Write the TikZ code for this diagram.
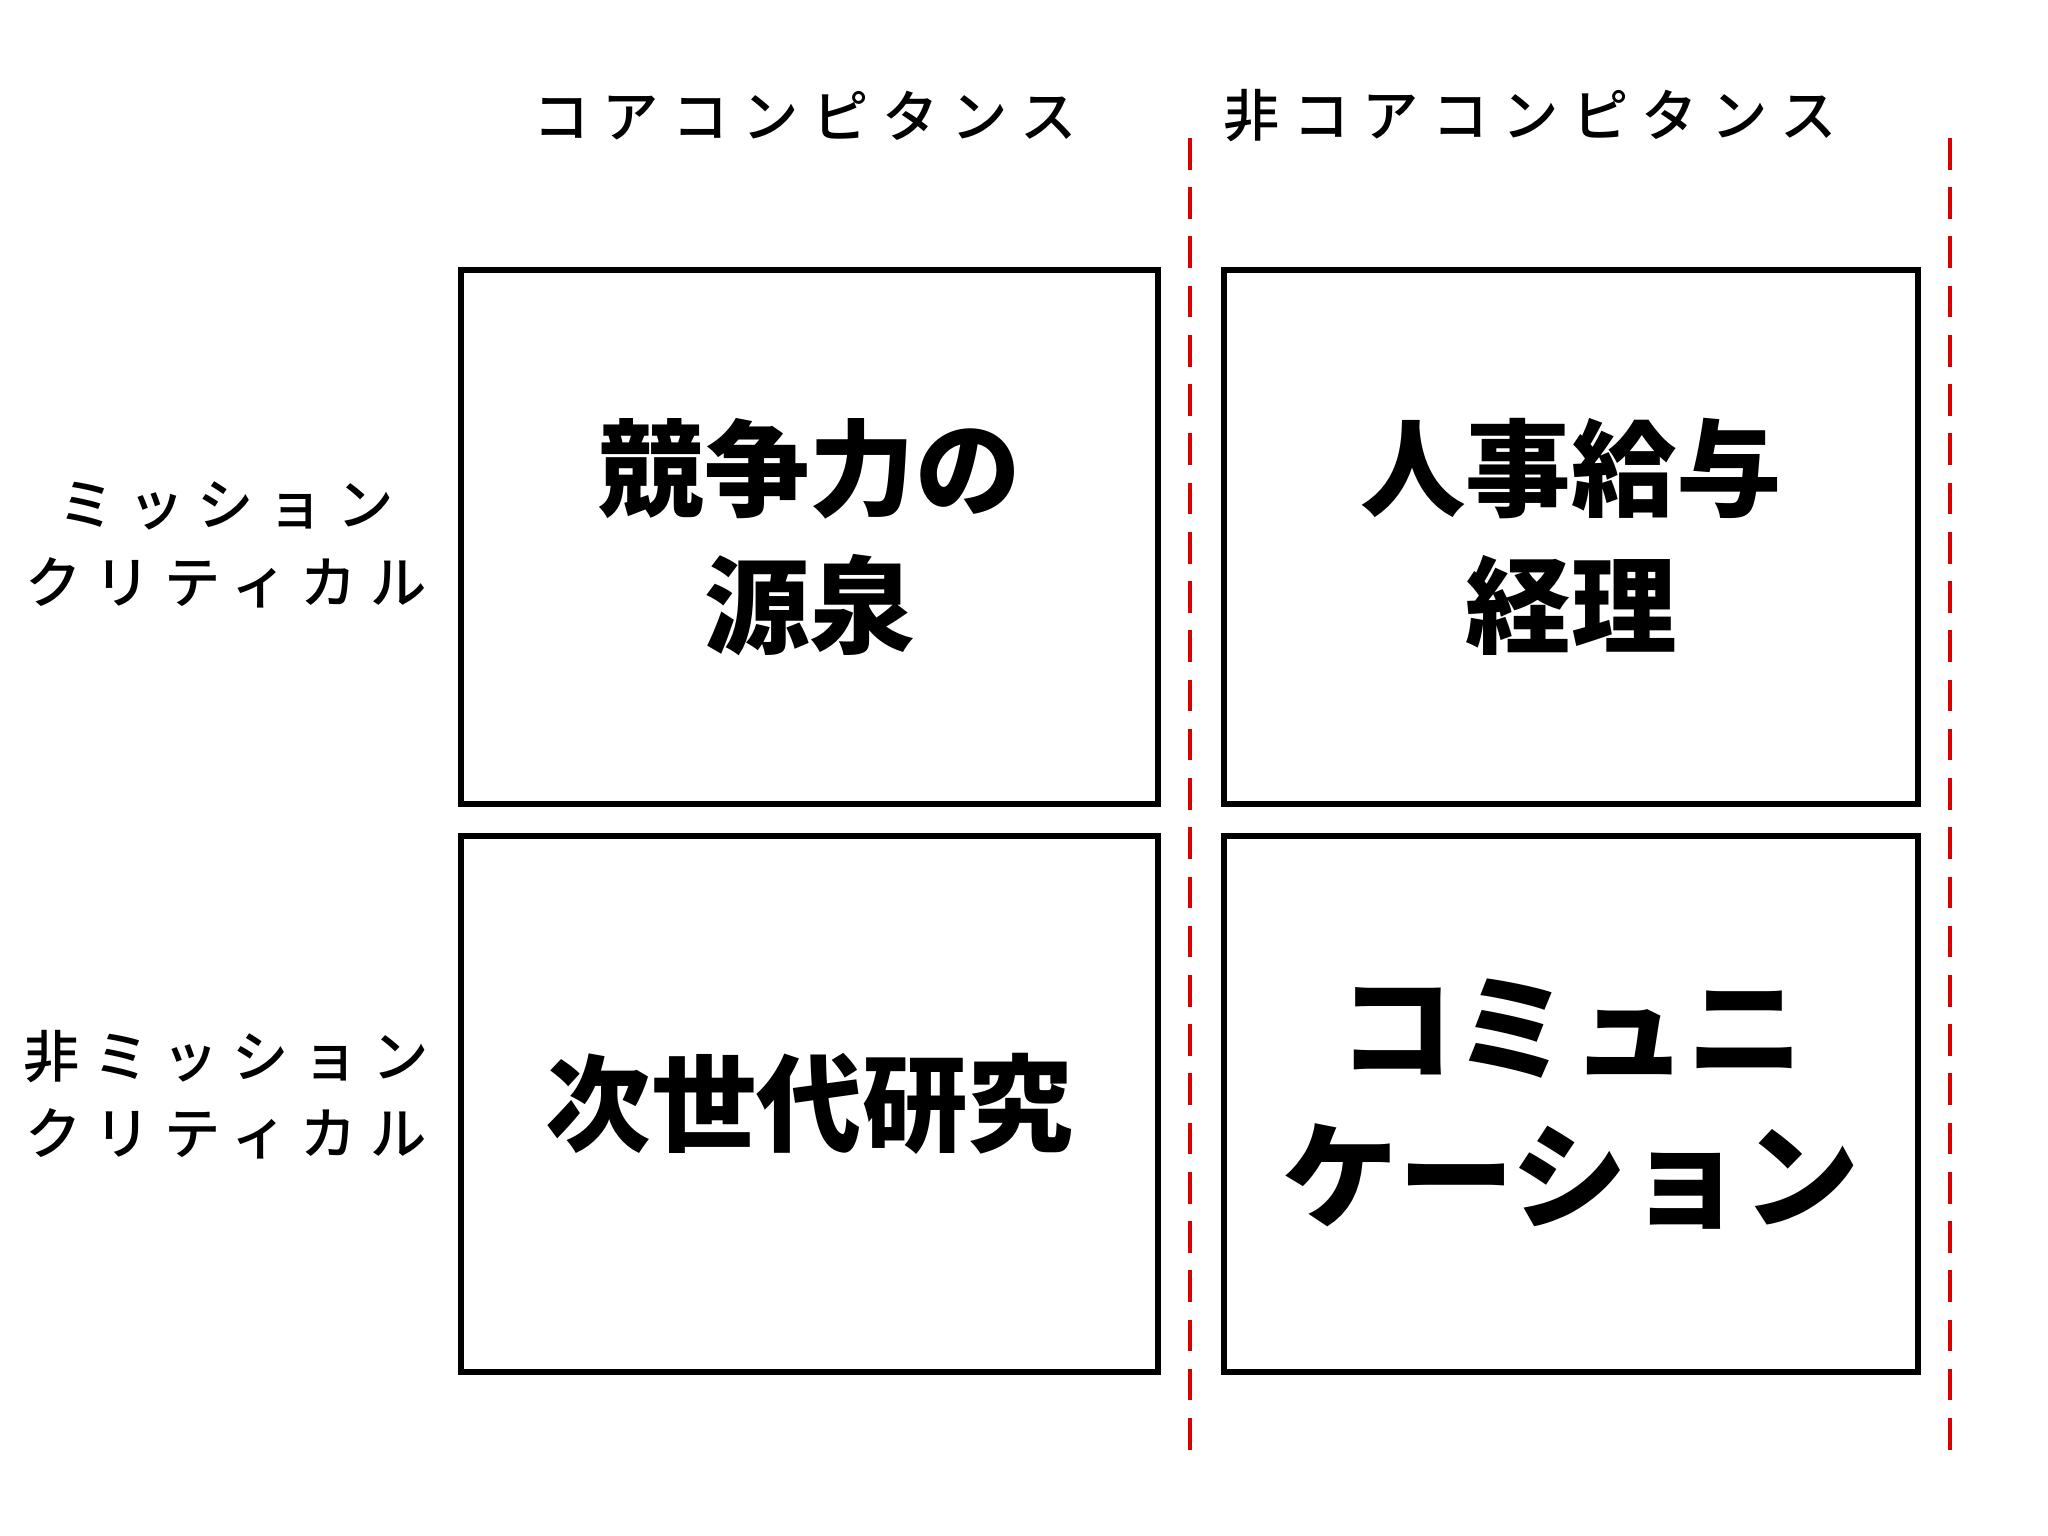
\documentclass[tikz,border=0pt]{standalone}
\usepackage{fontspec}
\setmainfont{Noto Sans CJK JP}
\newfontfamily\hdfont[LetterSpace=24]{Noto Sans CJK JP Medium}
\newfontfamily\bigfont{Noto Sans CJK JP Black}
\begin{document}
\begin{tikzpicture}[x=0.01cm,y=-0.01cm,
  cell/.style={draw,line width=1.7pt},
  head/.style={font=\hdfont\fontsize{16}{21}\selectfont,align=center},
  side/.style={font=\hdfont\fontsize{16}{22}\selectfont,align=center},
  big/.style={font=\bigfont\fontsize{30}{39}\selectfont,align=center},
  sep/.style={draw=red!85!black,line width=1.2pt,dash pattern=on 9pt off 5pt}]
\useasboundingbox (0,0) rectangle (2048,1536);
\draw[cell] (461,270) rectangle (1158,804) node[midway,big] (a) {競争力の\\源泉};
\draw[cell] (1224,270) rectangle (1918,804) node[midway,big] (b) {人事給与\\経理};
\draw[cell] (461,836) rectangle (1158,1372) node[midway,big] (c) {次世代研究};
\draw[cell] (1224,836) rectangle (1918,1372) node[midway,big,font=\bigfont\fontsize{33}{42}\selectfont] (d) {コミュニ\\ケーション};
\coordinate (r1t) at (1190,138); \coordinate (r1b) at (1190,1464);
\coordinate (r2t) at (1950,138); \coordinate (r2b) at (1950,1464);
\draw[sep] (r1t) -- (r1b);
\draw[sep] (r2t) -- (r2b);
\node[head] (h1) at (805,116) {コアコンピタンス};
\node[head] (h2) at (1530,116) {非コアコンピタンス};
\node[side] (s1) at (226,545) {ミッション\\クリティカル};
\node[side] (s2) at (226,1095) {非ミッション\\クリティカル};
\end{tikzpicture}
\end{document}
